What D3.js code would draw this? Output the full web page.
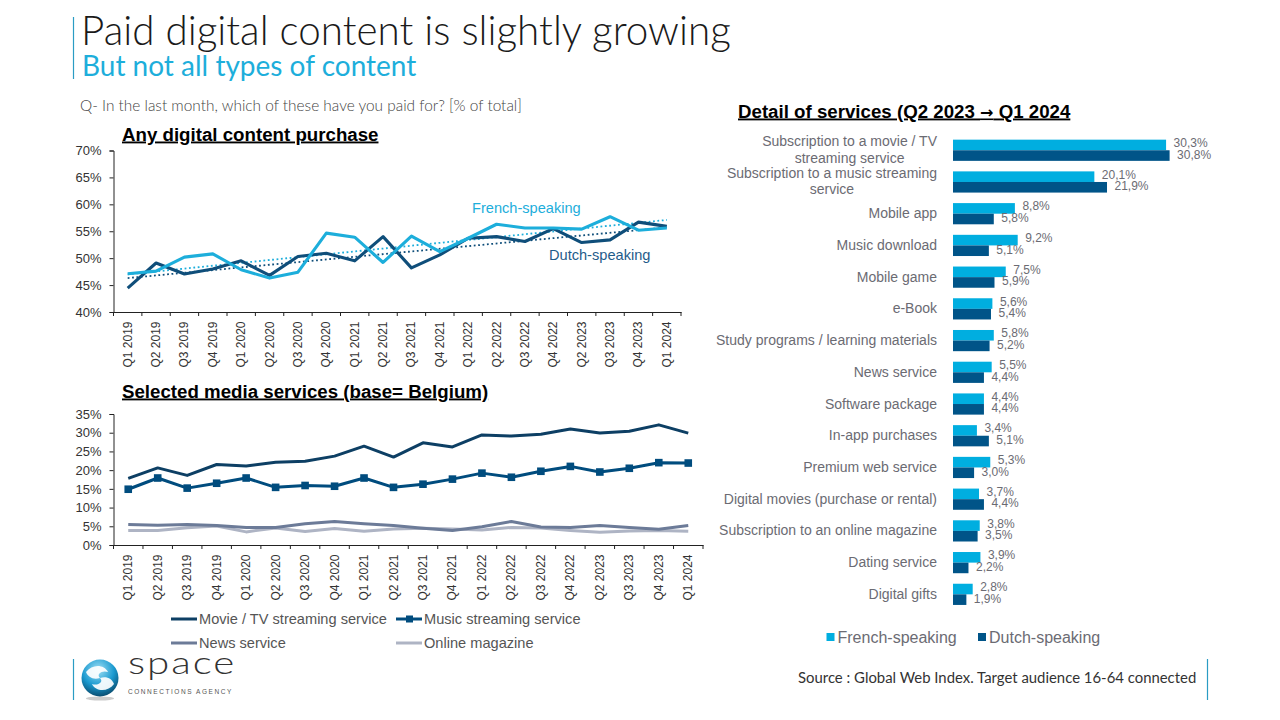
<!DOCTYPE html>
<html><head><meta charset="utf-8">
<script src="https://cdn.jsdelivr.net/npm/d3@7/dist/d3.min.js"></script>
<style>
html,body{margin:0;padding:0;background:#fff;overflow:hidden}
svg{display:block}
text{font-family:"Liberation Sans",Arial,sans-serif}
.light{font-family:Lato,"Open Sans",sans-serif;font-weight:300}
.domain{stroke:#222}
.tick line{stroke:#222}
</style></head><body>
<svg id="c" width="1280" height="720"></svg>
<script>
const quarters=["Q1 2019","Q2 2019","Q3 2019","Q4 2019","Q1 2020","Q2 2020","Q3 2020","Q4 2020","Q1 2021","Q2 2021","Q3 2021","Q4 2021","Q1 2022","Q2 2022","Q3 2022","Q4 2022","Q2 2023","Q3 2023","Q4 2023","Q1 2024"];
const frenchLine=[47.1,47.6,50.2,50.8,47.85,46.3,47.4,54.65,53.9,49.2,54.1,51.2,53.7,56.3,55.6,55.6,55.4,57.7,55.2,55.6];
const dutchLine=[44.45,49.1,47.05,48,49.5,46.8,50.3,50.9,49.5,54,48.2,50.6,53.7,54,53.1,55.5,52.9,53.4,56.7,55.9];
const frenchTrend=[47,57.1];
const dutchTrend=[46.3,55.7];
const pctTicksTop=[40,45,50,55,60,65,70];
const pctTicksBottom=[0,5,10,15,20,25,30,35];
const movieLine=[17.8,20.6,18.6,21.5,21.1,22.1,22.4,23.75,26.4,23.5,27.3,26.2,29.4,29.1,29.6,31,29.9,30.4,32.1,29.9];
const musicLine=[14.9,17.9,15.2,16.5,17.9,15.4,15.9,15.7,17.9,15.4,16.25,17.6,19.2,18.1,19.7,21,19.5,20.5,22,21.9];
const newsLine=[5.5,5.3,5.45,5.2,4.7,4.7,5.7,6.25,5.7,5.2,4.5,3.85,4.9,6.3,4.8,4.65,5.2,4.7,4.2,5.2];
const magazineLine=[3.9,3.9,4.6,5.1,3.5,4.55,3.6,4.4,3.7,4.3,4.5,4.3,4,4.7,4.55,3.9,3.4,3.75,3.85,3.65];
const services=["Subscription to a movie / TV|streaming service","Subscription to a music streaming|service","Mobile app","Music download","Mobile game","e-Book","Study programs / learning materials","News service","Software package","In-app purchases","Premium web service","Digital movies (purchase or rental)","Subscription to an online magazine","Dating service","Digital gifts"];
const frenchBars=[30.3,20.1,8.8,9.2,7.5,5.6,5.8,5.5,4.4,3.4,5.3,3.7,3.8,3.9,2.8];
const dutchBars=[30.8,21.9,5.8,5.1,5.9,5.4,5.2,4.4,4.4,5.1,3.0,4.4,3.5,2.2,1.9];

const C={fr:"#1DAEDB",nl:"#0F4E7A",barFr:"#00AEE0",barNl:"#005488",movie:"#0D3F64",music:"#004C7E",news:"#6C7B98",mag:"#AEB4C4",accent:"#2A9CC4",gray:"#6B6B73"};
const svg=d3.select("#c");

function txt(x,y,s,o={}){
  const t=svg.append("text").attr("x",x).attr("y",y).text(s);
  t.attr("font-size",o.size||14).attr("fill",o.fill||"#222");
  if(o.cls)t.attr("class",o.cls);
  if(o.bold)t.attr("font-weight","bold");
  if(o.anchor)t.attr("text-anchor",o.anchor);
  if(o.ul)t.attr("text-decoration","underline");
  if(o.ls!=null)t.attr("letter-spacing",o.ls);
  return t;
}
function vbar(x,y1,y2){svg.append("line").attr("x1",x).attr("x2",x).attr("y1",y1).attr("y2",y2).attr("stroke",C.accent).attr("stroke-width",1.2);}

vbar(73.5,17,79);vbar(73.5,659,700);vbar(1207.5,659,700);
txt(81,45,"Paid digital content is slightly growing",{cls:"light",size:40.4,fill:"#1a1a1a"});
txt(82,76,"But not all types of content",{cls:"light",size:28,fill:C.fr}).attr("style","font-weight:400");
txt(80,111,"Q- In the last month, which of these have you paid for? [% of total]",{cls:"light",size:15.4,fill:"#444"});
txt(122,140.5,"Any digital content purchase",{bold:true,size:18.7,fill:"#000",ul:true});
txt(122,397.5,"Selected media services (base= Belgium)",{bold:true,size:18.7,fill:"#000",ul:true});
const detail=txt(738,117.5,"Detail of services (Q2 2023 ",{bold:true,size:18.7,fill:"#000",ul:true});
detail.append("tspan").style("font-family",'"DejaVu Sans"').attr("font-size",16).text("→");
detail.append("tspan").text(" Q1 2024");

function lineChart(yDomain,ticks,yRange,xRange){
  const x=d3.scaleBand().domain(quarters).range(xRange);
  const y=d3.scaleLinear().domain(yDomain).range(yRange);
  const g=svg.append("g");
  const ya=g.append("g").attr("transform",`translate(${xRange[0]},0)`)
    .call(d3.axisLeft(y).tickValues(ticks).tickSize(4).tickPadding(8).tickFormat(d=>d+"%"));
  ya.selectAll("text").attr("font-size",13).attr("fill","#333").style("font-family",'"Liberation Sans"');
  const xa=g.append("g").attr("transform",`translate(0,${yRange[0]})`)
    .call(d3.axisBottom(x).tickSize(0).tickPadding(0));
  xa.selectAll("text").attr("font-size",12).attr("fill","#333").style("font-family",'"Liberation Sans"')
    .attr("text-anchor","end").attr("dy",null).attr("y",0)
    .attr("transform","translate(4,9.5) rotate(-90)");
  const edges=quarters.map(q=>x(q)).concat(xRange[1]);
  xa.selectAll("line.edge").data(edges).join("line").attr("class","edge")
    .attr("x1",d=>d).attr("x2",d=>d).attr("y1",0).attr("y2",4).attr("stroke","#222");
  return {x,y,g,cx:q=>x(q)+x.bandwidth()/2};
}
function drawLine(ch,vals,color,w){
  const gen=d3.line().x((d,i)=>ch.cx(quarters[i])).y(d=>ch.y(d));
  return ch.g.append("path").datum(vals).attr("d",gen).attr("fill","none").attr("stroke",color).attr("stroke-width",w).attr("stroke-linejoin","round");
}
function drawTrend(ch,ends,color){
  const q=[quarters[0],quarters[quarters.length-1]];
  ch.g.append("line").attr("x1",ch.cx(q[0])).attr("x2",ch.cx(q[1])).attr("y1",ch.y(ends[0])).attr("y2",ch.y(ends[1]))
    .attr("stroke",color).attr("stroke-width",1.8).attr("stroke-dasharray","1.8 2.6");
}
const upper=lineChart([40,70],pctTicksTop,[312,150.5],[113.5,681]);
drawTrend(upper,frenchTrend,C.fr);
drawTrend(upper,dutchTrend,C.nl);
drawLine(upper,dutchLine,C.nl,3.1);
drawLine(upper,frenchLine,C.fr,3.1);
txt(472,213,"French-speaking",{size:14.6,fill:C.fr});
txt(549,260,"Dutch-speaking",{size:14.6,fill:"#1F5C8A"});

const lower=lineChart([0,35],pctTicksBottom,[545,414],[113.5,703]);
drawLine(lower,magazineLine,C.mag,3);
drawLine(lower,newsLine,C.news,3);
drawLine(lower,movieLine,C.movie,3);
drawLine(lower,musicLine,C.music,3);
lower.g.selectAll("rect.m").data(musicLine).join("rect").attr("class","m")
  .attr("x",(d,i)=>lower.cx(quarters[i])-3.8).attr("y",d=>lower.y(d)-3.8).attr("width",7.6).attr("height",7.6).attr("fill",C.music);

const legend=[["Movie / TV streaming service",C.movie,171,619,0],["Music streaming service",C.music,396,619,1],["News service",C.news,171,643,0],["Online magazine",C.mag,396,643,0]];
legend.forEach(([s,c,x,y,m])=>{
  svg.append("line").attr("x1",x).attr("x2",x+26).attr("y1",y).attr("y2",y).attr("stroke",c).attr("stroke-width",3);
  if(m)svg.append("rect").attr("x",x+10).attr("y",y-3.5).attr("width",7).attr("height",7).attr("fill",c);
  txt(x+28,y+5,s,{size:14.6,fill:"#555"});
});

const by=d3.scaleBand().domain(services).range([134.4,610.2]);
const bx=d3.scaleLinear().domain([0,30.8]).range([953,1169.6]);
const bh=10.6;
const bg=svg.append("g");
const ax=bg.append("g").attr("transform","translate(953,0)").call(d3.axisLeft(by).tickSize(0).tickPadding(16));
ax.select(".domain").remove();
ax.selectAll(".tick text").each(function(d){
  const parts=d.split("|"),t=d3.select(this).text(null);
  t.attr("font-size",14).attr("fill",C.gray).style("font-family",'"Liberation Sans"');
  if(parts.length===1){t.text(d);return;}
  const probe=svg.append("text").attr("font-size",14).text(parts[0]);
  const w=probe.node().getComputedTextLength();probe.remove();
  t.append("tspan").attr("x",-16).attr("dy","-0.3em").text(parts[0]);
  const mid=-16-w/2;
  t.append("tspan").attr("x",mid).attr("dy","1.18em").attr("text-anchor","middle").text(parts[1]);
});
const comma=d=>d.toFixed(1).replace(".",",")+"%";
[[frenchBars,C.barFr,-bh,-2],[dutchBars,C.barNl,0,-1]].forEach(([vals,c,off,ly])=>{
  bg.selectAll(null).data(vals).join("rect")
    .attr("x",bx(0)).attr("y",(d,i)=>by(services[i])+by.bandwidth()/2+off)
    .attr("width",d=>bx(d)-bx(0)).attr("height",bh).attr("fill",c);
  bg.selectAll(null).data(vals).join("text")
    .attr("x",d=>bx(d)+7.5).attr("y",(d,i)=>by(services[i])+by.bandwidth()/2+off+bh/2+ly+4)
    .attr("font-size",12).attr("fill",C.gray).text(comma);
});
[["French-speaking",C.barFr,826.5],["Dutch-speaking",C.barNl,978]].forEach(([s,c,x])=>{
  svg.append("rect").attr("x",x).attr("y",633).attr("width",8).attr("height",8).attr("fill",c);
  txt(x+11,642.5,s,{size:16,fill:C.gray});
});
txt(798,683,"Source : Global Web Index. Target audience 16-64 connected",{cls:"light",size:14.9,fill:"#333"}).attr("style","font-weight:400");

// logo
const defs=svg.append("defs");
const rg=defs.append("radialGradient").attr("id","sph").attr("cx","45%").attr("cy","28%").attr("r","78%");
rg.append("stop").attr("offset","0%").attr("stop-color","#9FE0F5");
rg.append("stop").attr("offset","55%").attr("stop-color","#1B9AD0");
rg.append("stop").attr("offset","100%").attr("stop-color","#063E5E");
svg.append("ellipse").attr("cx",100).attr("cy",698.5).attr("rx",14).attr("ry",2).attr("fill","#ccc");
svg.append("circle").attr("cx",100).attr("cy",678).attr("r",18.5).attr("fill","url(#sph)");
svg.append("path").attr("d","M86 672 C92 664 104 664 108 672 C102 670 96 674 100 678 C93 680 88 677 86 672Z").attr("fill","#fff").attr("opacity",.92);
svg.append("path").attr("d","M114 684 C108 692 96 692 92 684 C98 686 104 682 100 678 C107 676 112 679 114 684Z").attr("fill","#fff").attr("opacity",.92);
svg.append("text").attr("class","light").attr("transform","translate(128,674) scale(1.3,1)").attr("font-size",31).attr("fill","#333").attr("letter-spacing",1.5).text("space");
txt(128,694,"CONNECTIONS AGENCY",{size:6.5,fill:"#555",ls:1.55});
</script></body></html>
